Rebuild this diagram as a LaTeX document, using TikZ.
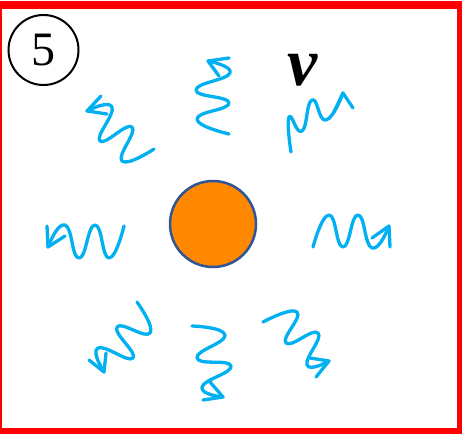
\documentclass[tikz,border=0pt]{standalone}
\usepackage{fontspec}
\setmainfont{Liberation Serif}
\definecolor{wblue}{HTML}{00B0F0}
\definecolor{sunorange}{HTML}{FF8800}
\definecolor{sunedge}{HTML}{2F5597}
\begin{document}
\begin{tikzpicture}[x=1pt,y=-1pt,
  wave/.style={draw=wblue, line width=3.3pt, line cap=round, line join=round},
  frame/.style={draw=red, line width=8pt}]
\useasboundingbox (0,0) rectangle (462,433);
\draw[frame] (-2,5.5) rectangle (461,432);
\node[circle, draw, line width=2pt, minimum size=70pt, inner sep=0pt] (five) at (43.5,50) {\fontsize{48}{48}\selectfont 5};
\node[circle, draw=sunedge, fill=sunorange, line width=2.5pt, minimum size=86pt, inner sep=0pt] (sun) at (213,224) {};
\node[inner sep=0pt] (nu) at (303,70) {\fontsize{68}{68}\selectfont\bfseries\itshape ν};
% upper left
\draw[wave] plot[smooth, tension=0.9] coordinates {(154,149) (122,161) (132,127) (100,141) (112,107) (87,111)};
\draw[wave] (101,96) -- (87,111) -- (107,114);
% top
\draw[wave] plot[smooth, tension=0.9] coordinates {(229,134) (197,119) (229,103) (196,90) (230,73) (208,61)};
\draw[wave] (229,58) -- (208,61) -- (219,76);
% upper right
\draw[wave] plot[smooth, tension=0.9] coordinates {(291,152) (289,117) (302,131) (312,100) (326,120) (343,93)};
\draw[wave] (334,112) -- (343,93) -- (353,108);
% left
\draw[wave] plot[smooth, tension=0.9] coordinates {(124,226) (109,258) (95,225) (79,258) (65,225) (48,247)};
\draw[wave] (47,226) -- (48,247) -- (65,236);
% right
\draw[wave] plot[smooth, tension=0.9] coordinates {(313,247) (329,215) (343,247) (358,215) (372,248) (389,226)};
\draw[wave] (372,238) -- (389,226) -- (390,247);
% lower left
\draw[wave] plot[smooth, tension=0.9] coordinates {(137,302) (150,333) (117,327) (133,358) (98,348) (104,372)};
\draw[wave] (89,360) -- (104,372) -- (106,353);
% bottom
\draw[wave] plot[smooth, tension=0.9] coordinates {(192,326) (225,335) (197,358) (231,366) (202,387) (223,397)};
\draw[wave] (203,400) -- (223,397) -- (210,382);
% lower right
\draw[wave] plot[smooth, tension=0.9] coordinates {(263,322) (297,312) (286,343) (318,333) (307,365) (329,361)};
\draw[wave] (310,358) -- (329,361) -- (316,377);
\end{tikzpicture}
\end{document}
